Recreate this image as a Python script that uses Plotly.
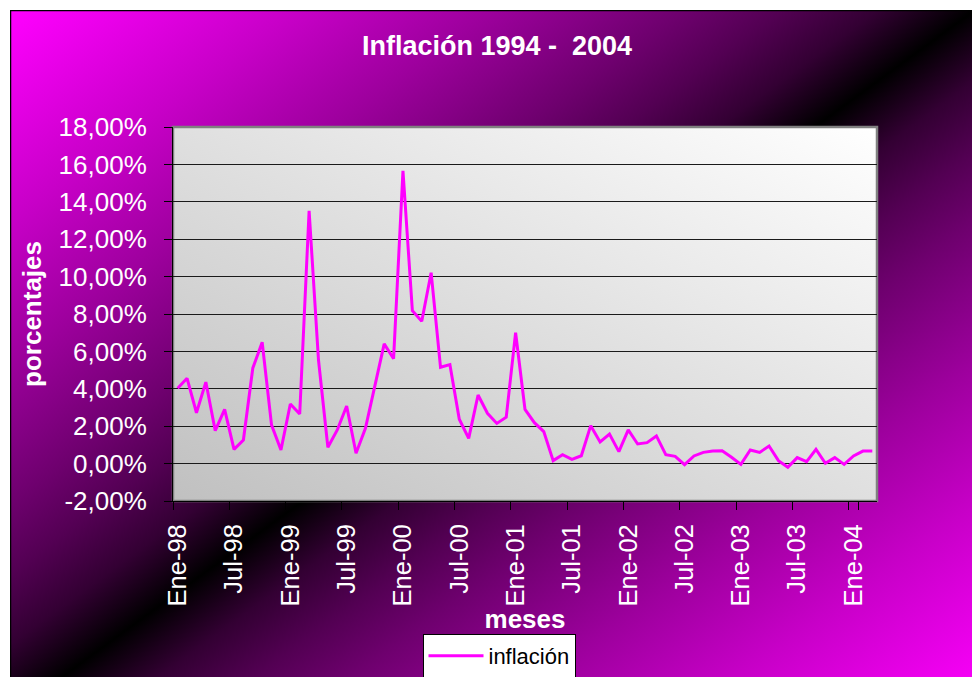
import base64
import plotly.graph_objects as go

# ---------------- data ----------------
months = ["Ene", "Feb", "Mar", "Abr", "May", "Jun", "Jul", "Ago", "Sep", "Oct", "Nov", "Dic"]
years = ["98", "99", "00", "01", "02", "03", "04"]
categories = [f"{m}-{y}" for y in years for m in months][:75]

inflacion = [
    4.03, 4.56, 2.72, 4.36, 1.76, 2.90, 0.76, 1.26, 5.10, 6.49, 2.06, 0.73,   # 1998
    3.19, 2.65, 13.52, 5.54, 0.87, 1.80, 3.08, 0.55, 1.89, 4.11, 6.40, 5.61,  # 1999
    15.66, 8.18, 7.61, 10.21, 5.15, 5.29, 2.37, 1.35, 3.67, 2.69, 2.15, 2.48, # 2000
    7.00, 2.90, 2.19, 1.71, 0.16, 0.48, 0.23, 0.42, 2.03, 1.16, 1.58, 0.64,   # 2001
    1.80, 1.05, 1.12, 1.48, 0.48, 0.39, -0.06, 0.41, 0.60, 0.67, 0.69, 0.34,  # 2002
    -0.04, 0.73, 0.60, 0.94, 0.16, -0.20, 0.32, 0.10, 0.76, 0.02, 0.32, -0.04, # 2003
    0.41, 0.67, 0.67,                                                          # 2004
]
y_values = [v / 100 for v in inflacion]

x_tickvals = categories[::6]
y_tickvals = [-0.02, 0.0, 0.02, 0.04, 0.06, 0.08, 0.10, 0.12, 0.14, 0.16, 0.18]
y_ticktext = ["-2,00%", "0,00%", "2,00%", "4,00%", "6,00%", "8,00%", "10,00%",
              "12,00%", "14,00%", "16,00%", "18,00%"]

# ---------------- layout geometry ----------------
W, H = 972, 677
ML, MR, MT, MB = 173, 95, 127, 176
PW, PH = W - ML - MR, H - MT - MB


def px_x(px):   # page pixel -> paper x
    return (px - ML) / PW


def px_y(py):   # page pixel -> paper y
    return (H - MB - py) / PH


# chart-area rectangle (page pixels)
CX0, CY0, CX1, CY1 = 10, 10, 975, 715
CW, CH = CX1 - CX0, CY1 - CY0


def svg_uri(svg):
    return "data:image/svg+xml;base64," + base64.b64encode(svg.encode()).decode()


# diagonal magenta-black-magenta gradient
stops = []
for i in range(11):
    s = i / 20.0
    c = int(round(255 * (1 - 2 * s) ** 0.7))
    stops.append((s, c))
for i in range(9, -1, -1):
    s = i / 20.0
    c = int(round(255 * (1 - 2 * s) ** 0.7))
    stops.append((1 - s, c))
stop_xml = "".join(
    f'<stop offset="{o:.3f}" stop-color="rgb({c},0,{c})"/>' for o, c in stops
)
bg_svg = (
    f'<svg xmlns="http://www.w3.org/2000/svg" width="{CW}" height="{CH}" '
    f'viewBox="0 0 {CW} {CH}" preserveAspectRatio="none">'
    f'<defs><linearGradient id="g" x1="0" y1="0" x2="1" y2="1">{stop_xml}</linearGradient></defs>'
    f'<rect x="0" y="0" width="{CW}" height="{CH}" fill="url(#g)"/>'
    f'<rect x="0.5" y="0.5" width="{CW}" height="{CH}" fill="none" stroke="black" stroke-width="1.5"/>'
    f'</svg>'
)

plot_svg = (
    f'<svg xmlns="http://www.w3.org/2000/svg" width="{PW}" height="{PH}" '
    f'viewBox="0 0 {PW} {PH}" preserveAspectRatio="none">'
    f'<defs><linearGradient id="p" x1="0" y1="1" x2="1" y2="0">'
    f'<stop offset="0" stop-color="#c0c0c0"/><stop offset="1" stop-color="#ffffff"/>'
    f'</linearGradient></defs>'
    f'<rect x="0" y="0" width="{PW}" height="{PH}" fill="url(#p)"/>'
    f'</svg>'
)

fig = go.Figure()
fig.add_trace(go.Scatter(
    x=categories, y=y_values, mode="lines", name="inflación",
    line=dict(color="#ff00ff", width=3),
))

font_main = "Liberation Sans, Arial, sans-serif"

fig.update_layout(
    width=W, height=H,
    margin=dict(l=ML, r=MR, t=MT, b=MB, pad=0, autoexpand=False),
    paper_bgcolor="white",
    plot_bgcolor="rgba(0,0,0,0)",
    font=dict(family=font_main, color="white", size=24),
    title=dict(
        text="<b>Inflación 1994 -  2004</b>",
        x=px_x(497), xref="paper", xanchor="center",
        y=1 - 46 / H, yref="container", yanchor="middle",
        font=dict(family=font_main, size=27, color="white"),
    ),
    showlegend=True,
    legend=dict(
        orientation="h",
        xref="container", yref="container",
        x=499 / W, xanchor="center",
        y=1 - 656 / H, yanchor="middle",
        itemwidth=55,
        bgcolor="white", bordercolor="black", borderwidth=1,
        font=dict(family=font_main, size=22, color="black"),
    ),
    images=[
        dict(source=svg_uri(bg_svg), xref="paper", yref="paper",
             x=px_x(CX0), y=px_y(CY0),
             sizex=CW / PW, sizey=CH / PH,
             xanchor="left", yanchor="top", sizing="stretch", layer="below"),
        dict(source=svg_uri(plot_svg), xref="paper", yref="paper",
             x=0, y=1, sizex=1, sizey=1,
             xanchor="left", yanchor="top", sizing="stretch", layer="below"),
    ],
    shapes=[
        dict(type="rect", xref="paper", yref="paper", x0=0, y0=0, x1=1, y1=1,
             line=dict(color="#808080", width=2.5), layer="below"),
    ],
)

fig.update_xaxes(
    type="category",
    range=[-0.5, len(categories) - 0.5],
    tickmode="array", tickvals=x_tickvals, ticktext=x_tickvals,
    tickson="boundaries",
    ticks="outside", ticklen=8, tickcolor="black", tickwidth=1,
    tickangle=-90,
    tickfont=dict(family=font_main, size=25.5, color="white"),
    ticklabelstandoff=12,
    showgrid=False, zeroline=False, automargin=False,
    showline=True, linecolor="black", linewidth=1,
    title=dict(text="<b>meses</b>", font=dict(family=font_main, size=26, color="white"),
               standoff=18),
)
fig.update_yaxes(
    range=[-0.02, 0.18],
    tickmode="array", tickvals=y_tickvals, ticktext=y_ticktext,
    ticks="outside", ticklen=8, tickcolor="black", tickwidth=1,
    tickfont=dict(family=font_main, size=26, color="white"),
    ticklabelstandoff=12,
    showgrid=True, gridcolor="#1a1a1a", gridwidth=1.4,
    zeroline=False, automargin=False,
    showline=True, linecolor="black", linewidth=1,
    title=dict(text="<b>porcentajes</b>", font=dict(family=font_main, size=26, color="white"),
               standoff=9),
)

# remove the browser's default 8px body margin so the figure sits at the page origin
fig.write_html("out.html",
               config={"displayModeBar": False},
               post_script="document.body.style.margin='0';document.body.style.overflow='hidden';")
